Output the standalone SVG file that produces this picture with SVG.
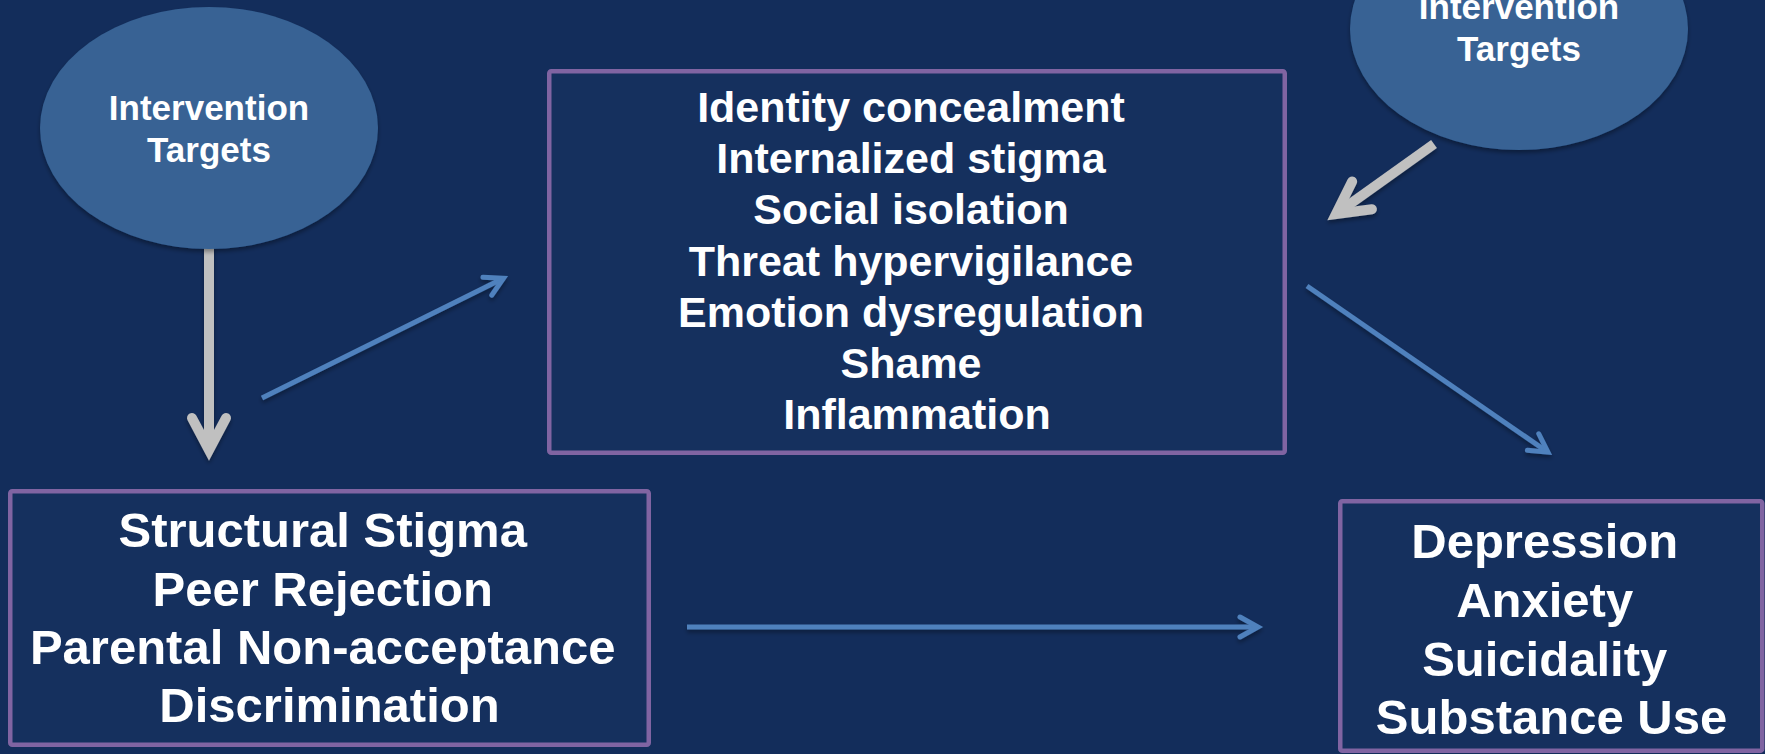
<svg xmlns="http://www.w3.org/2000/svg" width="1765" height="754" viewBox="0 0 1765 754">
<defs>
<style>
.bg{fill:#132d5b}
.oval{fill:#376294;filter:url(#sh)}
.box{fill:#15305e;stroke:#8064a2;stroke-width:4.5}
.t{font-family:"Liberation Sans",Arial,sans-serif;font-weight:bold;fill:#ffffff;text-anchor:middle}
.blue{stroke:#4f81bd;stroke-width:5;fill:none;filter:url(#sh)}
.gray{stroke:#c0c0c0;stroke-width:10;fill:none;filter:url(#sh)}
</style>
<filter id="sh" filterUnits="userSpaceOnUse" x="0" y="-200" width="1765" height="1000">
<feDropShadow dx="0" dy="3" stdDeviation="2" flood-color="#000000" flood-opacity="0.35"/>
</filter>
<marker id="ab" markerUnits="userSpaceOnUse" orient="auto" refX="0" refY="0" markerWidth="40" markerHeight="40" viewBox="-30 -20 40 40" overflow="visible">
<path d="M-18,-10 L0,0 L-18,10" fill="none" stroke="#4f81bd" stroke-width="5" stroke-linecap="round" stroke-linejoin="miter" stroke-miterlimit="10"/>
</marker>
<marker id="ag" markerUnits="userSpaceOnUse" orient="auto" refX="0" refY="0" markerWidth="80" markerHeight="80" viewBox="-50 -40 80 80" overflow="visible">
<path d="M-32,-17 L0,0 L-32,17" fill="none" stroke="#c0c0c0" stroke-width="10" stroke-linecap="round" stroke-linejoin="miter" stroke-miterlimit="10"/>
</marker>
</defs>
<rect class="bg" x="0" y="0" width="1765" height="754"/>

<g id="connectors">
<line class="gray" x1="209" y1="245" x2="209" y2="450" marker-end="url(#ag)"/>
<line class="gray" x1="1434" y1="144" x2="1336" y2="214" marker-end="url(#ag)"/>
<line class="blue" x1="262" y1="398" x2="503.5" y2="278.2" marker-end="url(#ab)"/>
<line class="blue" x1="1307" y1="286" x2="1547.9" y2="452.2" marker-end="url(#ab)"/>
<line class="blue" x1="687" y1="627" x2="1258" y2="627" marker-end="url(#ab)"/>
</g>

<g id="target-left">
<ellipse class="oval" cx="209" cy="128" rx="169" ry="121"/>
<text class="t" font-size="35"><tspan x="209" y="120">Intervention</tspan><tspan x="209" y="162">Targets</tspan></text>
</g>

<g id="target-right">
<ellipse class="oval" cx="1519" cy="29" rx="169" ry="121"/>
<text class="t" font-size="35"><tspan x="1519" y="19">Intervention</tspan><tspan x="1519" y="61">Targets</tspan></text>
</g>

<g id="mechanisms">
<rect class="box" x="549.25" y="71.25" width="735.5" height="381.5" rx="2"/>
<text class="t" font-size="43">
<tspan x="917" y="122">Identity concealment</tspan>
<tspan x="917" y="173">Internalized stigma</tspan>
<tspan x="917" y="224">Social isolation</tspan>
<tspan x="917" y="276">Threat hypervigilance</tspan>
<tspan x="917" y="327">Emotion dysregulation</tspan>
<tspan x="917" y="378">Shame</tspan>
<tspan x="917" y="429">Inflammation</tspan>
</text>
</g>

<g id="stressors">
<rect class="box" x="10.25" y="491.25" width="638.5" height="253.5" rx="2"/>
<text class="t" font-size="49">
<tspan x="329.5" y="547">Structural Stigma</tspan>
<tspan x="329.5" y="606">Peer Rejection</tspan>
<tspan x="329.5" y="664">Parental Non-acceptance</tspan>
<tspan x="329.5" y="722">Discrimination</tspan>
</text>
</g>

<g id="outcomes">
<rect class="box" x="1340.25" y="501.25" width="422" height="249.5" rx="2"/>
<text class="t" font-size="49">
<tspan x="1551.5" y="558">Depression</tspan>
<tspan x="1551.5" y="617">Anxiety</tspan>
<tspan x="1551.5" y="676">Suicidality</tspan>
<tspan x="1551.5" y="734">Substance Use</tspan>
</text>
</g>
</svg>
